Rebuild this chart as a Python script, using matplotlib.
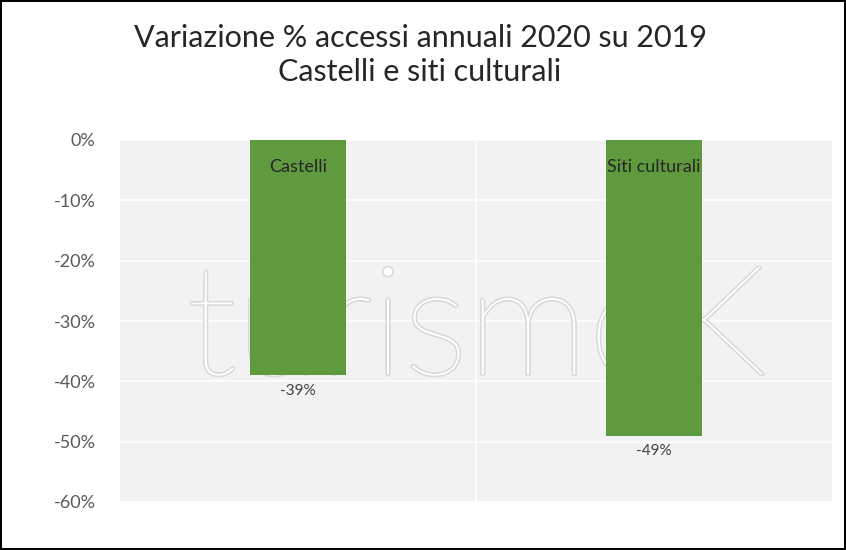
import matplotlib
matplotlib.use("Agg")
import matplotlib.pyplot as plt
import matplotlib.patheffects as pe

categories = ["Castelli", "Siti culturali"]
values = [-39, -49]
value_labels = ["-39%", "-49%"]
yticks = [0, -10, -20, -30, -40, -50, -60]

plt.rcParams['font.family'] = ['Lato', 'DejaVu Sans']
fig = plt.figure(figsize=(8.46, 5.5), dpi=100)
ax = fig.add_axes([120/846, 48/550, 712/846, 362/550])
ax.set_facecolor('#f2f2f2')
fig.patch.set_edgecolor('black')
fig.patch.set_linewidth(1.5)

x = list(range(len(categories)))
ax.bar(x, values, width=0.27, color='#5f9a3e', zorder=3)
ax.set_xlim(-0.5, 1.5)
ax.set_ylim(-60, 0)
ax.set_yticks(yticks)
ax.set_yticklabels([f"{t}%" for t in yticks], fontsize=13, color='#595959')
ax.set_xticks([])
ax.axvline(0.5, color='white', lw=1.2, zorder=1)
for t in yticks:
    ax.axhline(t, color='white', lw=1.2, zorder=1)
for s in ax.spines.values():
    s.set_visible(False)
ax.tick_params(left=False, pad=14)

ax.text(0.5, -32, "turismoK", fontsize=110, color='white', ha='center', va='center',
        zorder=2, fontweight='light',
        path_effects=[pe.withStroke(linewidth=2.5, foreground='#d9d9d9'), pe.Normal()])

for xi, v, c, lab in zip(x, values, categories, value_labels):
    ax.text(xi, -4.5, c, ha='center', va='center', fontsize=13, color='#262626', zorder=4)
    ax.text(xi, v - 2.6, lab, ha='center', va='center', fontsize=11, color='#404040', zorder=4)

fig.text(420/846, 1 - 55/550, "Variazione % accessi annuali 2020 su 2019\nCastelli e siti culturali",
         ha='center', va='center', fontsize=22, color='#262626', linespacing=1.3)
fig.savefig("out.png", dpi=100, edgecolor=fig.get_edgecolor())
